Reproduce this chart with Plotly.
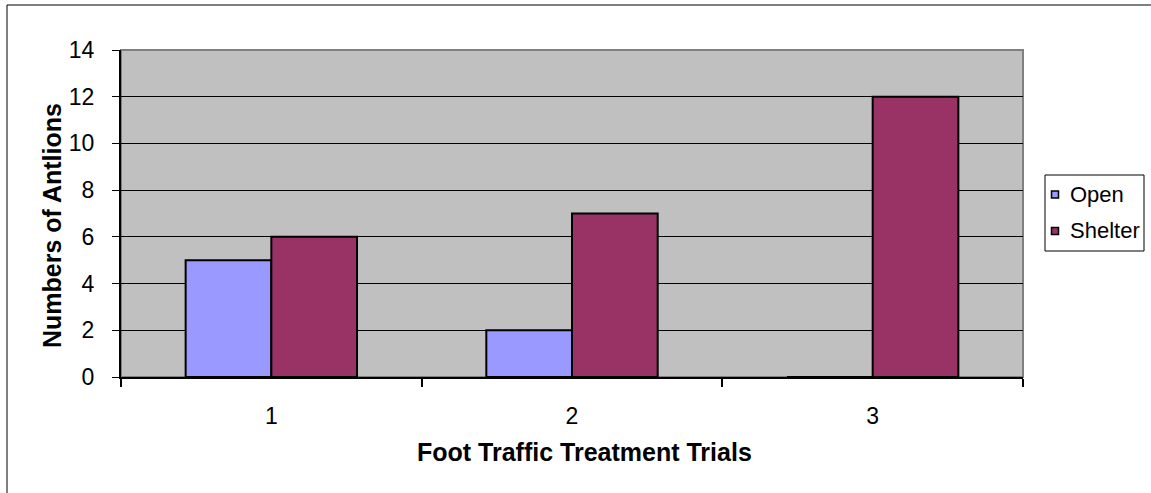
import plotly.graph_objects as go

# Antlion counts per foot-traffic trial
trials = ["1", "2", "3"]
open_counts = [5, 2, 0]
shelter_counts = [6, 7, 12]
series_names = ["Open", "Shelter"]
series_colors = ["#9999FF", "#993366"]
y_ticks = [0, 2, 4, 6, 8, 10, 12, 14]
x_title = "Foot Traffic Treatment Trials"
y_title = "Numbers of Antlions"

W, H = 1151, 493
L, R, T, B = 121, 1023, 50, 377  # plot area in pixels
FONT = "Liberation Sans, Arial, sans-serif"


def px_x(x):
    return (x - L) / (R - L)


def px_y(y):
    return (B - y) / (B - T)


fig = go.Figure()
for name, vals, color in zip(series_names, [open_counts, shelter_counts], series_colors):
    fig.add_trace(go.Bar(
        x=trials, y=vals, name=name,
        marker=dict(color=color, line=dict(color="black", width=2)),
        showlegend=False,
    ))

shapes = [
    # outer chart frame
    dict(type="rect", xref="paper", yref="paper",
         x0=px_x(7), x1=px_x(1200), y0=px_y(5), y1=px_y(560),
         line=dict(color="black", width=1), layer="below"),
    # plot area border (top / right)
    dict(type="rect", xref="paper", yref="paper", x0=0, x1=1, y0=0, y1=1,
         line=dict(color="#808080", width=2), layer="below"),
    # legend box
    dict(type="rect", xref="paper", yref="paper",
         x0=px_x(1045), x1=px_x(1144), y0=px_y(251), y1=px_y(175),
         line=dict(color="black", width=1), fillcolor="white"),
]

annotations = [
    dict(xref="paper", yref="paper", x=px_x(584.5), y=px_y(452),
         xanchor="center", yanchor="middle", showarrow=False,
         text="<b>%s</b>" % x_title, font=dict(family=FONT, size=25, color="black")),
    dict(xref="paper", yref="paper", x=px_x(52), y=px_y(226),
         xanchor="center", yanchor="middle", showarrow=False, textangle=-90,
         text="<b>%s</b>" % y_title, font=dict(family=FONT, size=25, color="black")),
]

legend_rows = [194.5, 231]
for name, color, cy in zip(series_names, series_colors, legend_rows):
    shapes.append(dict(type="rect", xref="paper", yref="paper",
                       x0=px_x(1051.5), x1=px_x(1058.5), y0=px_y(cy + 3.5), y1=px_y(cy - 3.5),
                       line=dict(color="black", width=1.5), fillcolor=color))
    annotations.append(dict(xref="paper", yref="paper", x=px_x(1068), y=px_y(cy),
                            xanchor="left", yanchor="middle", showarrow=False,
                            text=name, font=dict(family=FONT, size=22, color="black")))

fig.update_layout(
    width=W, height=H,
    margin=dict(l=L, r=W - R, t=T, b=H - B),
    paper_bgcolor="white", plot_bgcolor="#C0C0C0",
    barmode="group", bargap=0.43, bargroupgap=0,
    font=dict(family=FONT, size=23, color="black"),
    shapes=shapes, annotations=annotations,
    xaxis=dict(
        type="category", range=[-0.5, 2.5],
        showline=True, linecolor="black", linewidth=2,
        ticks="outside", tickson="boundaries", ticklen=8, tickwidth=2, tickcolor="black",
        showgrid=False, ticklabelstandoff=17,
        tickfont=dict(family=FONT, size=23),
    ),
    yaxis=dict(
        range=[0, 14], tickvals=y_ticks, ticktext=[str(v) for v in y_ticks],
        showline=True, linecolor="black", linewidth=2,
        ticks="outside", ticklen=7, tickwidth=1, tickcolor="black",
        showgrid=True, gridcolor="black", gridwidth=1, zeroline=False,
        ticklabelstandoff=13,
        tickfont=dict(family=FONT, size=23),
    ),
)

fig.write_html("out.html")
